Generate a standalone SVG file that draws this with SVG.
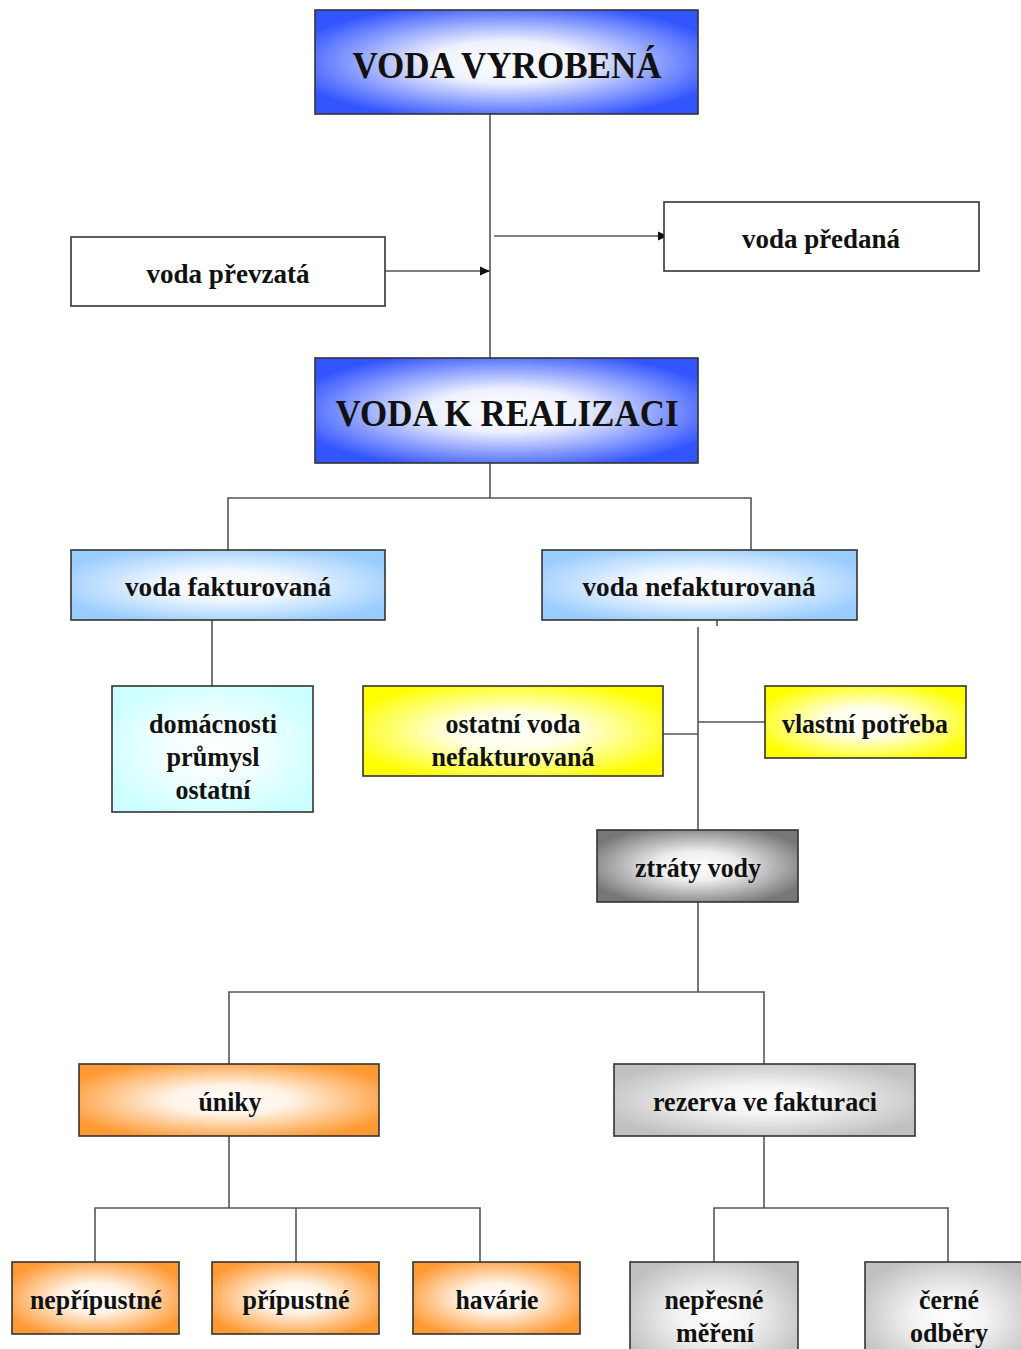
<svg xmlns="http://www.w3.org/2000/svg" width="1021" height="1349" viewBox="0 0 1021 1349">
<defs>
<style>
.box{stroke:#333;stroke-width:1.6}
.t{font-family:"Liberation Serif","Times New Roman",serif;font-weight:bold;fill:#111;text-anchor:middle}
.big{font-size:38px}
.sm{font-size:27px}
.ln{stroke:#555;stroke-width:1.6;fill:none}
</style>
<radialGradient id="gBlue" cx="0.5" cy="0.5" r="0.58"><stop offset="0" stop-color="#fff"/><stop offset="0.35" stop-color="#eef1ff"/><stop offset="1" stop-color="#3355ff"/></radialGradient>
<radialGradient id="gLBlue" cx="0.5" cy="0.5" r="0.58"><stop offset="0" stop-color="#fff"/><stop offset="0.35" stop-color="#f2f8ff"/><stop offset="1" stop-color="#99ccff"/></radialGradient>
<radialGradient id="gCyan" cx="0.5" cy="0.5" r="0.58"><stop offset="0" stop-color="#fff"/><stop offset="0.35" stop-color="#f6ffff"/><stop offset="1" stop-color="#ccffff"/></radialGradient>
<radialGradient id="gYel" cx="0.5" cy="0.5" r="0.58"><stop offset="0" stop-color="#fff"/><stop offset="0.35" stop-color="#ffffe8"/><stop offset="1" stop-color="#ffff00"/></radialGradient>
<radialGradient id="gDGray" cx="0.5" cy="0.5" r="0.58"><stop offset="0" stop-color="#fff"/><stop offset="0.35" stop-color="#eeeeee"/><stop offset="1" stop-color="#777"/></radialGradient>
<radialGradient id="gOr" cx="0.5" cy="0.5" r="0.58"><stop offset="0" stop-color="#fff"/><stop offset="0.35" stop-color="#fff3e6"/><stop offset="1" stop-color="#ff9933"/></radialGradient>
<radialGradient id="gLGray" cx="0.5" cy="0.5" r="0.58"><stop offset="0" stop-color="#fff"/><stop offset="0.35" stop-color="#f4f4f4"/><stop offset="1" stop-color="#c0c0c0"/></radialGradient>
<marker id="arr" markerWidth="12" markerHeight="12" refX="10" refY="6" orient="auto" markerUnits="userSpaceOnUse"><path d="M0,1.5 L10,6 L0,10.5 Z" fill="#111"/></marker>
</defs>
<rect width="1021" height="1349" fill="#fff"/>

<g id="connectors">
<line class="ln" x1="490" y1="114" x2="490" y2="358"/>
<line class="ln" x1="385" y1="271" x2="490" y2="271" marker-end="url(#arr)"/>
<line class="ln" x1="494" y1="236" x2="668" y2="236" marker-end="url(#arr)"/>
<polyline class="ln" points="490,463 490,498"/>
<polyline class="ln" points="228,550 228,498 751,498 751,550"/>
<line class="ln" x1="212" y1="620" x2="212" y2="686"/>
<line class="ln" x1="717" y1="620" x2="717" y2="626"/>
<line class="ln" x1="698" y1="627" x2="698" y2="830"/>
<line class="ln" x1="663" y1="734" x2="698" y2="734"/>
<line class="ln" x1="698" y1="722" x2="765" y2="722"/>
<line class="ln" x1="698" y1="902" x2="698" y2="992"/>
<polyline class="ln" points="229,1064 229,992 764,992 764,1064"/>
<line class="ln" x1="229" y1="1136" x2="229" y2="1208"/>
<polyline class="ln" points="95,1262 95,1208 480,1208 480,1262"/>
<line class="ln" x1="296" y1="1208" x2="296" y2="1262"/>
<line class="ln" x1="764" y1="1136" x2="764" y2="1208"/>
<polyline class="ln" points="714,1262 714,1208 948,1208 948,1262"/>
</g>

<g id="voda-vyrobena"><rect class="box" x="315" y="10" width="383" height="104" fill="url(#gBlue)"/><text class="t big" x="507" y="78" textLength="309" lengthAdjust="spacingAndGlyphs">VODA VYROBENÁ</text></g>
<g id="voda-prevzata"><rect class="box" x="71" y="237" width="314" height="69" fill="#fff"/><text class="t sm" x="228" y="283" textLength="163" lengthAdjust="spacingAndGlyphs">voda převzatá</text></g>
<g id="voda-predana"><rect class="box" x="664" y="202" width="315" height="69" fill="#fff"/><text class="t sm" x="821" y="248" textLength="158" lengthAdjust="spacingAndGlyphs">voda předaná</text></g>
<g id="voda-k-realizaci"><rect class="box" x="315" y="358" width="383" height="105" fill="url(#gBlue)"/><text class="t big" x="507" y="426" textLength="343" lengthAdjust="spacingAndGlyphs">VODA K REALIZACI</text></g>
<g id="voda-fakturovana"><rect class="box" x="71" y="550" width="314" height="70" fill="url(#gLBlue)"/><text class="t sm" x="228" y="596" textLength="206" lengthAdjust="spacingAndGlyphs">voda fakturovaná</text></g>
<g id="voda-nefakturovana"><rect class="box" x="542" y="550" width="315" height="70" fill="url(#gLBlue)"/><text class="t sm" x="699" y="596" textLength="233" lengthAdjust="spacingAndGlyphs">voda nefakturovaná</text></g>
<g id="domacnosti"><rect class="box" x="112" y="686" width="201" height="126" fill="url(#gCyan)"/>
<text class="t sm" x="213" y="733" textLength="128" lengthAdjust="spacingAndGlyphs">domácnosti</text>
<text class="t sm" x="213" y="766" textLength="93" lengthAdjust="spacingAndGlyphs">průmysl</text>
<text class="t sm" x="213" y="799" textLength="75" lengthAdjust="spacingAndGlyphs">ostatní</text></g>
<g id="ostatni-voda"><rect class="box" x="363" y="686" width="300" height="90" fill="url(#gYel)"/>
<text class="t sm" x="513" y="733" textLength="135" lengthAdjust="spacingAndGlyphs">ostatní voda</text>
<text class="t sm" x="513" y="766" textLength="163" lengthAdjust="spacingAndGlyphs">nefakturovaná</text></g>
<g id="vlastni-potreba"><rect class="box" x="765" y="686" width="201" height="72" fill="url(#gYel)"/><text class="t sm" x="865" y="733" textLength="166" lengthAdjust="spacingAndGlyphs">vlastní potřeba</text></g>
<g id="ztraty-vody"><rect class="box" x="597" y="830" width="201" height="72" fill="url(#gDGray)"/><text class="t sm" x="698" y="877" textLength="126" lengthAdjust="spacingAndGlyphs">ztráty vody</text></g>
<g id="uniky"><rect class="box" x="79" y="1064" width="300" height="72" fill="url(#gOr)"/><text class="t sm" x="230" y="1111" textLength="63" lengthAdjust="spacingAndGlyphs">úniky</text></g>
<g id="rezerva"><rect class="box" x="614" y="1064" width="301" height="72" fill="url(#gLGray)"/><text class="t sm" x="765" y="1111" textLength="224" lengthAdjust="spacingAndGlyphs">rezerva ve fakturaci</text></g>
<g id="nepripustne"><rect class="box" x="12" y="1262" width="167" height="72" fill="url(#gOr)"/><text class="t sm" x="96" y="1309" textLength="132" lengthAdjust="spacingAndGlyphs">nepřípustné</text></g>
<g id="pripustne"><rect class="box" x="212" y="1262" width="167" height="72" fill="url(#gOr)"/><text class="t sm" x="296" y="1309" textLength="107" lengthAdjust="spacingAndGlyphs">přípustné</text></g>
<g id="havarie"><rect class="box" x="413" y="1262" width="167" height="72" fill="url(#gOr)"/><text class="t sm" x="497" y="1309" textLength="83" lengthAdjust="spacingAndGlyphs">havárie</text></g>
<g id="nepresne-mereni"><rect class="box" x="630" y="1262" width="168" height="110" fill="url(#gLGray)"/>
<text class="t sm" x="714" y="1309" textLength="99" lengthAdjust="spacingAndGlyphs">nepřesné</text>
<text class="t sm" x="715" y="1342" textLength="78" lengthAdjust="spacingAndGlyphs">měření</text></g>
<g id="cerne-odbery"><rect class="box" x="865" y="1262" width="170" height="110" fill="url(#gLGray)"/>
<text class="t sm" x="949" y="1309" textLength="60" lengthAdjust="spacingAndGlyphs">černé</text>
<text class="t sm" x="949" y="1342" textLength="78" lengthAdjust="spacingAndGlyphs">odběry</text></g>
</svg>
